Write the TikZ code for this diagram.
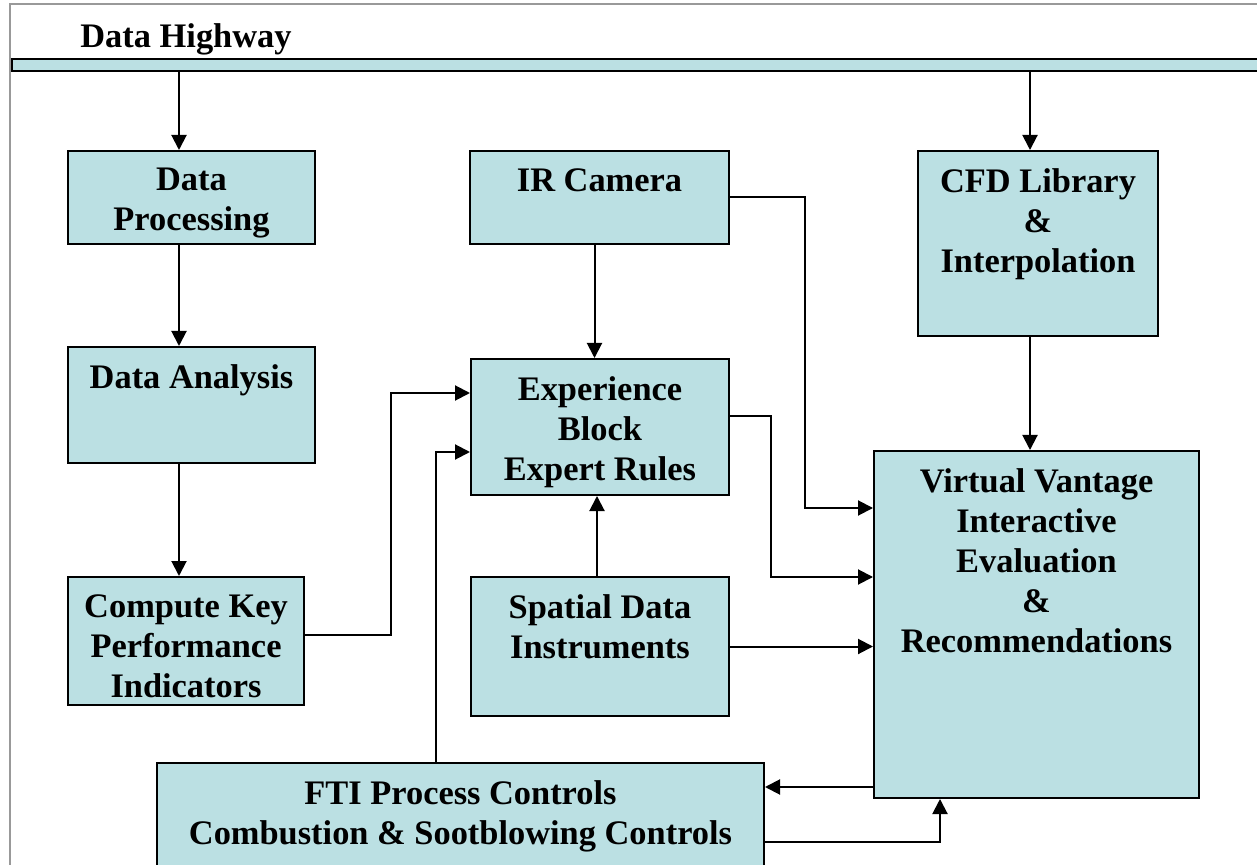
\documentclass[tikz,border=0pt]{standalone}
\usepackage{fontspec}
\setmainfont{Liberation Serif}
\usetikzlibrary{arrows.meta,positioning}
\definecolor{boxblue}{HTML}{BBE0E3}
\definecolor{framegray}{HTML}{999999}

\tikzset{
    blk/.style={draw=black, fill=boxblue, line width=1pt, inner sep=0pt, anchor=north west},
    lbl/.style={font=\fontsize{17.2}{20}\selectfont\bfseries, align=center, inner sep=0pt, anchor=north, yshift=-9pt},
    arr/.style={line width=1pt, -{Triangle[length=7.5pt,width=7.5pt]}}
}

\begin{document}
\begin{tikzpicture}[x=0.5pt, y=-0.5pt]
    \clip (0,0) rectangle (1257,865);

    % outer frame
    \draw[framegray, line width=1pt] (9.5,870) -- (9.5,4.5) -- (1260,4.5);

    % data highway
    \node[anchor=north west, inner sep=0pt, font=\fontsize{17.2}{20}\selectfont\bfseries] (title) at (80,23) {Data Highway};
    \node[blk, minimum width=630pt, minimum height=6pt] (hw) at (11,58) {};

    % draw boxes
    \node[blk, minimum width=123.5pt, minimum height=46.5pt] (dp) at (67,150) {};
    \node[blk, minimum width=123.5pt, minimum height=58pt] (da) at (67,346) {};
    \node[blk, minimum width=118pt, minimum height=64pt] (kpi) at (67,576) {};
    \node[blk, minimum width=129.5pt, minimum height=46.5pt] (ir) at (469,150) {};
    \node[blk, minimum width=129pt, minimum height=68pt] (exp) at (470,358) {};
    \node[blk, minimum width=129pt, minimum height=69.5pt] (sp) at (470,576) {};
    \node[blk, minimum width=120pt, minimum height=92.5pt] (cfd) at (917,150) {};
    \node[blk, minimum width=162.5pt, minimum height=173.5pt] (vv) at (873,450) {};
    \node[blk, minimum width=303.5pt, minimum height=62pt] (fti) at (156,762) {};

    % draw labels
    \node[lbl] (dp-t) at (dp.north) {Data\\Processing};
    \node[lbl] (da-t) at (da.north) {Data Analysis};
    \node[lbl] (kpi-t) at (kpi.north) {Compute Key\\Performance\\Indicators};
    \node[lbl] (ir-t) at (ir.north) {IR Camera};
    \node[lbl] (exp-t) at (exp.north) {Experience\\Block\\Expert Rules};
    \node[lbl] (sp-t) at (sp.north) {Spatial Data\\Instruments};
    \node[lbl] (cfd-t) at (cfd.north) {CFD Library\\\&\\Interpolation};
    \node[lbl] (vv-t) at (vv.north) {Virtual Vantage\\Interactive\\Evaluation\\\&\\Recommendations};
    \node[lbl] (fti-t) at (fti.north) {FTI Process Controls\\Combustion \& Sootblowing Controls};

    % draw connectors
    \coordinate (dpin) at ([xshift=-6.25pt]dp.north);
    \coordinate (cfdin) at ([xshift=-4pt]cfd.north);
    \draw[arr] (dpin |- hw.south) -- (dpin);
    \draw[arr] (cfdin |- hw.south) -- (cfdin);
    \draw[arr] (dp.south -| dpin) -- (da.north -| dpin);
    \draw[arr] (da.south -| dpin) -- (kpi.north -| dpin);
    \draw[arr] (cfd.south -| cfdin) -- (vv.north -| cfdin);
    \draw[arr] ([xshift=-2.5pt]ir.south) -- ([xshift=-2.5pt]ir.south |- exp.north);
    \draw[arr] ([xshift=-1.5pt]sp.north) -- ([xshift=-1.5pt]sp.north |- exp.south);

    \draw[arr] (ir.east) -| (805,508) -- (vv.west |- 805,508);
    \draw[arr] ([yshift=5.5pt]exp.east) -| (771,577) -- (vv.west |- 771,577);
    \draw[arr] (sp.east) -- (vv.west |- sp.east);
    \draw[arr] ([yshift=3pt]kpi.east) -| (391,393) -- (exp.west |- 391,393);
    \draw[arr] (fti.north -| 436,0) |- (exp.west |- 436,452);

    \coordinate (vvout) at ([yshift=6pt]vv.south west);
    \draw[arr] (vvout) -- (fti.east |- vvout);
    \draw[arr] (fti.east |- 0,842) -| (vv.south -| 940,0);
\end{tikzpicture}
\end{document}
